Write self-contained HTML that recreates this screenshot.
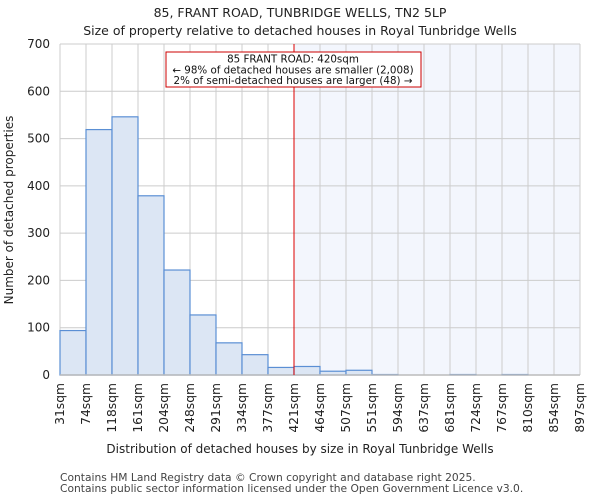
<!DOCTYPE html><html><head><meta charset="utf-8"><style>
body{margin:0;background:#fff;font-family:"DejaVu Sans","Liberation Sans",sans-serif}
</style></head><body>
<svg id="c" width="600" height="500" xmlns="http://www.w3.org/2000/svg">
<rect width="600" height="500" fill="#fff"/>
<text x="300" y="17" text-anchor="middle" font-size="12.5" fill="#222">85, FRANT ROAD, TUNBRIDGE WELLS, TN2 5LP</text>
<text x="300" y="35" text-anchor="middle" font-size="12.5" fill="#222">Size of property relative to detached houses in Royal Tunbridge Wells</text>
<g id="plot"></g>
<text x="300" y="453" text-anchor="middle" font-size="12" fill="#222">Distribution of detached houses by size in Royal Tunbridge Wells</text>
<text transform="translate(13,210) rotate(-90)" text-anchor="middle" font-size="12" fill="#222">Number of detached properties</text>
<text x="60" y="481" font-size="10.7" fill="#444">Contains HM Land Registry data © Crown copyright and database right 2025.</text>
<text x="60" y="492" font-size="10.7" fill="#444">Contains public sector information licensed under the Open Government Licence v3.0.</text>
</svg>
<script>
const categories=["31sqm","74sqm","118sqm","161sqm","204sqm","248sqm","291sqm","334sqm","377sqm","421sqm","464sqm","507sqm","551sqm","594sqm","637sqm","681sqm","724sqm","767sqm","810sqm","854sqm","897sqm"];
const counts=[94,519,546,379,222,127,68,43,16,18,8,10,1,0,0,1,0,1,0,0];
const yTicks=[0,100,200,300,400,500,600,700];
const markerBin=9;
const X0=60,X1=580,Y0=375,Y1=44,YMAX=700;
const NS="http://www.w3.org/2000/svg";
const g=document.getElementById('plot');
const n=counts.length,bw=(X1-X0)/n;
const xs=i=>X0+i*bw;
const ys=v=>Y0-(Y0-Y1)*v/YMAX;
function mk(t,a){const e=document.createElementNS(NS,t);for(const k in a)e.setAttribute(k,a[k]);g.appendChild(e);return e;}
let e;
e=mk('rect',{x:xs(markerBin),y:Y1,width:X1-xs(markerBin),height:Y0-Y1,fill:'#f3f6fd'});


yTicks.forEach(t=>{
 e=mk('line',{x1:X0,x2:X1,y1:ys(t),y2:ys(t),stroke:'#ccc','stroke-width':1});
 
 
 e=mk('text',{x:X0-10,y:ys(t)+4,'text-anchor':'end','font-size':12,fill:'#222'});e.textContent=t;
 
 
});
categories.forEach((c,i)=>{
 e=mk('line',{x1:xs(i),x2:xs(i),y1:Y1,y2:Y0,stroke:'#ccc','stroke-width':1});
 
 
 e=mk('text',{transform:`translate(${xs(i)+4},${Y0+8}) rotate(-90)`,'text-anchor':'end','font-size':12.3,fill:'#222'});e.textContent=c;
 
 
});
counts.forEach((v,i)=>{
 e=mk('rect',{x:xs(i),y:ys(v),width:bw,height:Y0-ys(v),fill:'#dce6f4',stroke:'#5b8fd4','stroke-width':1.2});
 
 
});
e=mk('line',{x1:X0,x2:X1,y1:Y0,y2:Y0,stroke:'#bbb','stroke-width':1.5});


e=mk('line',{x1:xs(markerBin),x2:xs(markerBin),y1:Y1,y2:Y0,stroke:'#d00','stroke-width':1});


e=mk('rect',{x:166,y:52,width:255,height:35,fill:'#fff',stroke:'#c00','stroke-width':1});


["85 FRANT ROAD: 420sqm","← 98% of detached houses are smaller (2,008)","2% of semi-detached houses are larger (48) →"].forEach((s,k)=>{
 e=mk('text',{x:293,y:62.5+k*10.8,'text-anchor':'middle','font-size':10.3,fill:'#111'});e.textContent=s;
 
 
});
</script>
</body></html>
